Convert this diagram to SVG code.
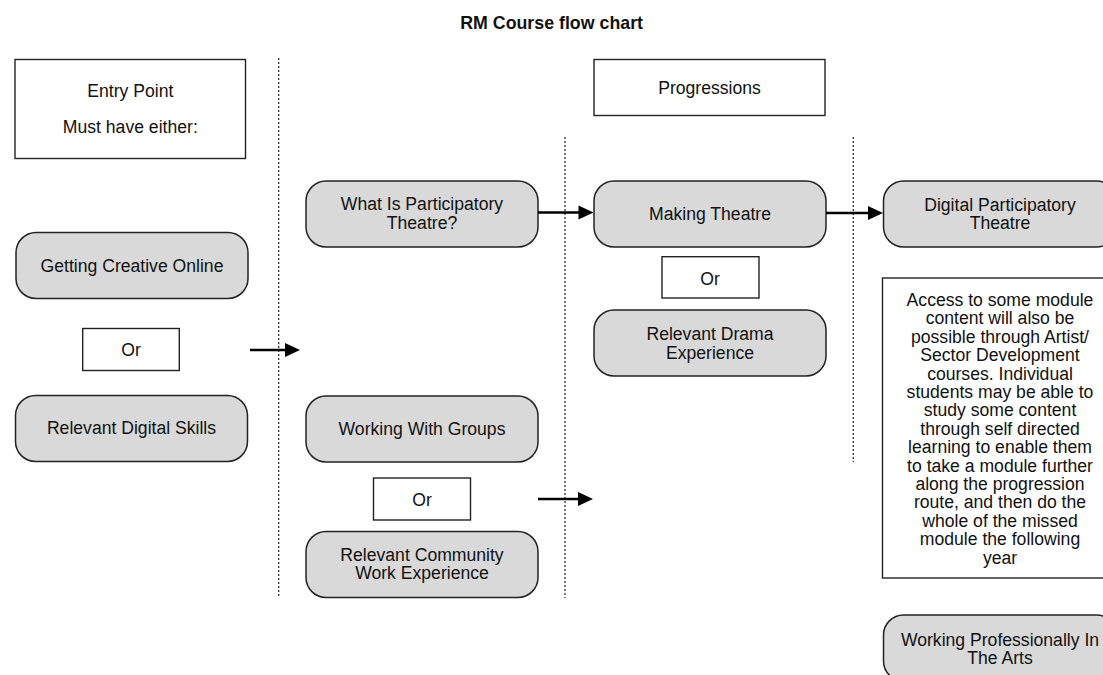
<svg xmlns="http://www.w3.org/2000/svg" width="1103" height="675" viewBox="0 0 1103 675">
  <defs>
    <style>
      text { font-family: "Liberation Sans", Arial, Helvetica, sans-serif; font-size: 17.6px; fill: #111; text-anchor: middle; }
      .title { font-weight: bold; font-size: 17.8px; }
      .plain { fill: #ffffff; stroke: #222; stroke-width: 1.4; }
      .module { fill: #d9d9d9; stroke: #222; stroke-width: 1.5; }
      .divider { stroke: #222; stroke-width: 1.2; stroke-dasharray: 2 2; fill: none; }
      .arrow { stroke: #000; stroke-width: 2.6; fill: none; marker-end: url(#head); }
    </style>
    <marker id="head" markerUnits="userSpaceOnUse" markerWidth="16" markerHeight="15" refX="3" refY="7" orient="auto" overflow="visible">
      <path d="M0,0 L15,7 L0,14 Z" fill="#000"/>
    </marker>
  </defs>

  <rect width="1103" height="675" fill="#ffffff"/>

  <text class="title" x="551.6" y="28.5">RM Course flow chart</text>

  <!-- column dividers -->
  <g id="dividers">
    <line class="divider" x1="278.7" y1="58" x2="278.7" y2="598"/>
    <line class="divider" x1="565" y1="137" x2="565" y2="598"/>
    <line class="divider" x1="853.3" y1="137" x2="853.3" y2="462"/>
  </g>

  <g id="entry-point">
    <rect class="plain" x="15" y="59.5" width="230.5" height="99"/>
    <text x="130.3" y="96.5">Entry Point</text>
    <text x="130.3" y="133">Must have either:</text>
  </g>

  <g id="progressions">
    <rect class="plain" x="594" y="59.5" width="231" height="56"/>
    <text x="709.5" y="94">Progressions</text>
  </g>

  <g id="getting-creative-online">
    <rect class="module" x="16" y="232.5" width="232" height="66" rx="20"/>
    <text x="132" y="272">Getting Creative Online</text>
  </g>

  <g id="or-entry">
    <rect class="plain" x="82.7" y="328.5" width="96.6" height="42"/>
    <text x="131" y="356">Or</text>
  </g>

  <g id="relevant-digital-skills">
    <rect class="module" x="15.5" y="395.5" width="232" height="66" rx="20"/>
    <text x="131.5" y="434">Relevant Digital Skills</text>
  </g>

  <g id="what-is-participatory-theatre">
    <rect class="module" x="306" y="181" width="232" height="66" rx="20"/>
    <text x="422" y="210">What Is Participatory</text>
    <text x="422" y="228.5">Theatre?</text>
  </g>

  <g id="working-with-groups">
    <rect class="module" x="306" y="396" width="232" height="66" rx="20"/>
    <text x="422" y="435">Working With Groups</text>
  </g>

  <g id="or-groups">
    <rect class="plain" x="373.5" y="478" width="97" height="42"/>
    <text x="422" y="506">Or</text>
  </g>

  <g id="relevant-community-work">
    <rect class="module" x="306" y="531.5" width="232" height="66" rx="20"/>
    <text x="422" y="561">Relevant Community</text>
    <text x="422" y="579">Work Experience</text>
  </g>

  <g id="making-theatre">
    <rect class="module" x="594" y="181" width="232" height="66" rx="20"/>
    <text x="710" y="219.5">Making Theatre</text>
  </g>

  <g id="or-drama">
    <rect class="plain" x="662" y="256.7" width="97" height="41.3"/>
    <text x="710" y="284.5">Or</text>
  </g>

  <g id="relevant-drama-experience">
    <rect class="module" x="594" y="310" width="232" height="66" rx="20"/>
    <text x="710" y="340">Relevant Drama</text>
    <text x="710" y="358.5">Experience</text>
  </g>

  <g id="digital-participatory-theatre">
    <rect class="module" x="883.5" y="181" width="233" height="66" rx="20"/>
    <text x="1000" y="211">Digital Participatory</text>
    <text x="1000" y="229">Theatre</text>
  </g>

  <g id="access-note">
    <rect class="plain" x="882.5" y="278" width="235" height="300"/>
    <text x="1000" y="306">Access to some module</text>
    <text x="1000" y="324.4">content will also be</text>
    <text x="1000" y="342.8">possible through Artist/</text>
    <text x="1000" y="361.2">Sector Development</text>
    <text x="1000" y="379.6">courses. Individual</text>
    <text x="1000" y="398">students may be able to</text>
    <text x="1000" y="416.4">study some content</text>
    <text x="1000" y="434.8">through self directed</text>
    <text x="1000" y="453.2">learning to enable them</text>
    <text x="1000" y="471.6">to take a module further</text>
    <text x="1000" y="490">along the progression</text>
    <text x="1000" y="508.4">route, and then do the</text>
    <text x="1000" y="526.8">whole of the missed</text>
    <text x="1000" y="545.2">module the following</text>
    <text x="1000" y="563.6">year</text>
  </g>

  <g id="working-professionally">
    <rect class="module" x="883.5" y="615" width="233" height="66" rx="20"/>
    <text x="1000" y="646">Working Professionally In</text>
    <text x="1000" y="664">The Arts</text>
  </g>

  <g id="connectors">
    <line class="arrow" x1="250" y1="350" x2="288" y2="350"/>
    <line class="arrow" x1="538" y1="212.5" x2="581.5" y2="212.5"/>
    <line class="arrow" x1="826" y1="213" x2="871" y2="213"/>
    <line class="arrow" x1="538" y1="499" x2="581" y2="499"/>
  </g>
</svg>
